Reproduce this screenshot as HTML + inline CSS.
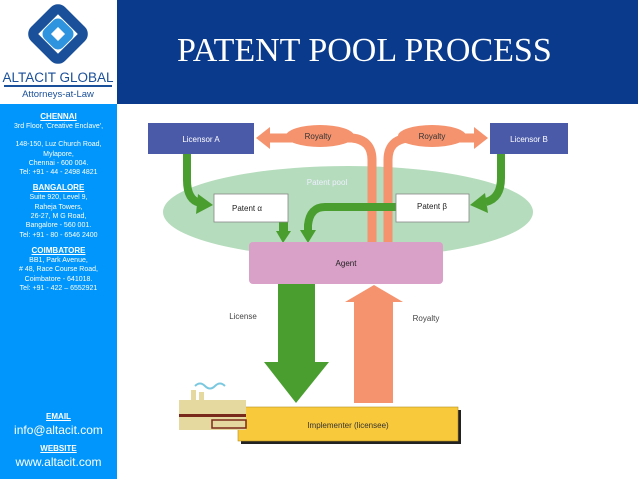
<!DOCTYPE html>
<html><head><meta charset="utf-8"><style>
body{margin:0;width:638px;height:479px;overflow:hidden;background:#fff;font-family:"Liberation Sans",sans-serif}
#side{position:absolute;left:0;top:104px;width:117px;height:375px;background:#0096fb;color:#fff;text-align:center;font-size:7px;line-height:9.3px}
#side .h{text-decoration:underline;font-weight:bold;font-size:8px;line-height:10px}
#hdr{position:absolute;left:117px;top:0;width:521px;height:104px;background:#0a3a8c;color:#fff;font-family:"Liberation Serif",serif;font-size:34px}
</style></head><body>
<svg style="position:absolute;left:0;top:0" width="117" height="104">
<g transform="translate(58,34)">
<rect x="-19" y="-19" width="38" height="38" transform="rotate(45)" fill="none" stroke="#1a4f99" stroke-width="10" rx="5"/>
<rect x="-9" y="-9" width="18" height="18" transform="rotate(45)" fill="none" stroke="#2f94e0" stroke-width="8" rx="3"/>
</g>
<text x="58" y="82" font-size="13.5" text-anchor="middle" fill="#1a4f99" font-family="Liberation Sans">ALTACIT GLOBAL</text>
<rect x="4" y="85" width="108" height="2" fill="#1a4f99"/>
<text x="58" y="97" font-size="9.5" text-anchor="middle" fill="#1a4f99">Attorneys-at-Law</text>
</svg>
<div id="hdr"><div style="position:absolute;left:60px;top:32px">PATENT POOL PROCESS</div></div>
<div id="side">
<div style="height:8px"></div>
<div class="h">CHENNAI</div>
<div>3rd Floor, 'Creative Enclave',</div><div style="height:9px"></div>
<div>148-150, Luz Church Road,</div><div>Mylapore,</div><div>Chennai - 600 004.</div><div>Tel: +91 - 44 - 2498 4821</div>
<div style="height:6px"></div>
<div class="h">BANGALORE </div>
<div>Suite 920, Level 9,</div><div>Raheja Towers,</div><div>26-27, M G Road,</div><div>Bangalore - 560 001.</div><div>Tel: +91 - 80 - 6546 2400</div>
<div style="height:6px"></div>
<div class="h">COIMBATORE</div>
<div>BB1, Park Avenue,</div><div># 48, Race Course Road,</div><div>Coimbatore - 641018.</div><div>Tel: +91 - 422 – 6552921</div>
<div style="position:absolute;top:308px;width:117px"><div class="h">EMAIL</div><div style="font-size:12px;line-height:16px">info@altacit.com</div>
<div style="height:6px"></div><div class="h">WEBSITE</div><div style="font-size:12px;line-height:17px">www.altacit.com</div></div>
</div>
<svg style="position:absolute;left:0;top:0" width="638" height="479" font-family="Liberation Sans">
<ellipse cx="348" cy="212" rx="185" ry="46" fill="#b5dcbc"/>
<text x="327" y="185" font-size="8" fill="#eef" text-anchor="middle">Patent pool</text>
<path d="M372 244 V160 Q372 140 352 138 H270" fill="none" stroke="#f4936e" stroke-width="9"/>
<path d="M388 244 V160 Q388 140 408 138 H474" fill="none" stroke="#f4936e" stroke-width="9"/>
<ellipse cx="320" cy="136" rx="34" ry="11" fill="#f4936e"/>
<ellipse cx="432" cy="136" rx="34" ry="11" fill="#f4936e"/>
<polygon points="256,138 270,127 270,149" fill="#f4936e"/>
<polygon points="488,138 474,127 474,149" fill="#f4936e"/>
<text x="318" y="139" font-size="8" fill="#333" text-anchor="middle">Royalty</text>
<text x="432" y="139" font-size="8" fill="#333" text-anchor="middle">Royalty</text>
<rect x="148" y="123" width="106" height="31" fill="#4a5aa8"/>
<rect x="490" y="123" width="78" height="31" fill="#4a5aa8"/>
<text x="201" y="142" font-size="8" fill="#fff" text-anchor="middle">Licensor A</text>
<text x="529" y="142" font-size="8" fill="#fff" text-anchor="middle">Licensor B</text>
<path d="M187 154 V180 Q187 200 200 203" fill="none" stroke="#4a9e30" stroke-width="8"/>
<polygon points="213,205 198,194 196,214" fill="#4a9e30"/>
<path d="M501 154 V178 Q501 198 486 202" fill="none" stroke="#4a9e30" stroke-width="8"/>
<polygon points="470,205 485,193 488,213" fill="#4a9e30"/>
<rect x="279" y="220" width="9" height="12" fill="#4a9e30"/>
<polygon points="276,231 291,231 283,243" fill="#4a9e30"/>
<path d="M396 207 H325 Q310 207 308 225 V232" fill="none" stroke="#4a9e30" stroke-width="8"/>
<polygon points="300,230 316,230 308,243" fill="#4a9e30"/>
<rect x="214" y="194" width="74" height="28" fill="#fff" stroke="#888" stroke-width="0.8"/>
<rect x="396" y="194" width="73" height="28" fill="#fff" stroke="#888" stroke-width="0.8"/>
<text x="247" y="211" font-size="8" fill="#222" text-anchor="middle">Patent α</text>
<text x="432" y="209" font-size="8" fill="#222" text-anchor="middle">Patent β</text>
<rect x="249" y="242" width="194" height="42" rx="4" fill="#d9a0c8"/>
<text x="346" y="266" font-size="8" fill="#222" text-anchor="middle">Agent</text>
<rect x="278" y="284" width="37" height="80" fill="#4a9e30"/>
<polygon points="264,362 329,362 296,403" fill="#4a9e30"/>
<rect x="354" y="300" width="39" height="103" fill="#f4936e"/>
<polygon points="345,302 403,302 374,285" fill="#f4936e"/>
<text x="243" y="319" font-size="8" fill="#444" text-anchor="middle">License</text>
<text x="426" y="321" font-size="8" fill="#444" text-anchor="middle">Royalty</text>
<rect x="241" y="410" width="220" height="34" fill="#222"/>
<rect x="238" y="407" width="220" height="34" fill="#f8c93a" stroke="#b59020" stroke-width="0.6"/>
<text x="348" y="428" font-size="8" fill="#333" text-anchor="middle">Implementer (licensee)</text>
<path d="M195 386 q5 -5 10 0 t10 0 t10 0" fill="none" stroke="#7ac8e0" stroke-width="2"/>
<rect x="179" y="400" width="67" height="30" fill="#e6d9a0"/>
<rect x="191" y="390" width="5" height="12" fill="#e6d9a0"/>
<rect x="199" y="392" width="5" height="10" fill="#e6d9a0"/>
<rect x="179" y="414" width="67" height="3" fill="#7a2a1a"/>
<rect x="212" y="420" width="34" height="8" fill="none" stroke="#7a2a1a" stroke-width="1.5"/>
</svg>
</body></html>
